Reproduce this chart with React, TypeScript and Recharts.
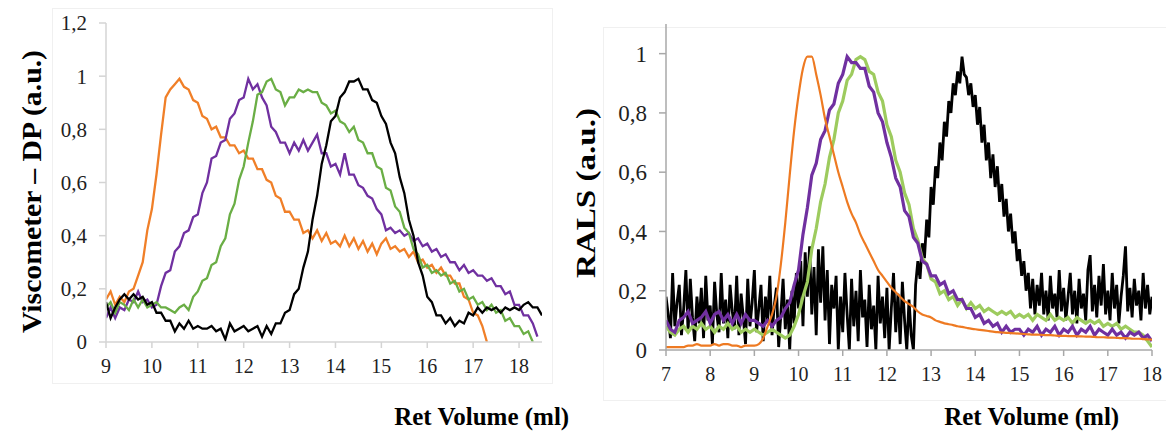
import React from 'react';
import { LineChart, Line, XAxis, YAxis } from 'recharts';

const FONT = '"Liberation Serif", "Times New Roman", serif';

// ---------- Left panel (Viscometer – DP) ----------
const leftX = [
  9, 9.1, 9.2, 9.3, 9.4, 9.5, 9.6, 9.7, 9.8, 9.9,
  10, 10.1, 10.2, 10.3, 10.4, 10.5, 10.6, 10.7, 10.8, 10.9,
  11, 11.1, 11.2, 11.3, 11.4, 11.5, 11.6, 11.7, 11.8, 11.9,
  12, 12.1, 12.2, 12.3, 12.4, 12.5, 12.6, 12.7, 12.8, 12.9,
  13, 13.1, 13.2, 13.3, 13.4, 13.5, 13.6, 13.7, 13.8, 13.9,
  14, 14.1, 14.2, 14.3, 14.4, 14.5, 14.6, 14.7, 14.8, 14.9,
  15, 15.1, 15.2, 15.3, 15.4, 15.5, 15.6, 15.7, 15.8, 15.9,
  16, 16.1, 16.2, 16.3, 16.4, 16.5, 16.6, 16.7, 16.8, 16.9,
  17, 17.1, 17.2, 17.3, 17.4, 17.5, 17.6, 17.7, 17.8, 17.9,
  18, 18.1, 18.2, 18.3, 18.4, 18.5,
];
const leftOrange = [
  0.16, 0.19, 0.14, 0.17, 0.15, 0.19, 0.20, 0.25, 0.30, 0.42,
  0.50, 0.63, 0.78, 0.92, 0.95, 0.97, 0.99, 0.96, 0.95, 0.91,
  0.90, 0.85, 0.84, 0.80, 0.81, 0.77, 0.77, 0.74, 0.74, 0.71,
  0.72, 0.69, 0.69, 0.65, 0.65, 0.61, 0.60, 0.55, 0.54, 0.49,
  0.49, 0.46, 0.46, 0.41, 0.42, 0.39, 0.42, 0.38, 0.41, 0.37,
  0.38, 0.36, 0.40, 0.36, 0.39, 0.35, 0.38, 0.34, 0.37, 0.33,
  0.37, 0.39, 0.35, 0.36, 0.34, 0.35, 0.32, 0.34, 0.30, 0.31,
  0.28, 0.29, 0.26, 0.28, 0.25, 0.25, 0.22, 0.22, 0.17, 0.16,
  0.11, 0.10, 0.06, 0.0, null, null, null, null, null, null,
  null, null, null, null, null, null,
];
const leftPurple = [
  0.09, 0.13, 0.09, 0.13, 0.12, 0.16, 0.15, 0.19, 0.15, 0.16,
  0.13, 0.14, 0.21, 0.26, 0.27, 0.34, 0.36, 0.41, 0.42, 0.47,
  0.48, 0.56, 0.60, 0.69, 0.70, 0.75, 0.76, 0.84, 0.86, 0.91,
  0.92, 0.99, 0.95, 0.97, 0.92, 0.89, 0.81, 0.79, 0.75, 0.75,
  0.71, 0.75, 0.72, 0.76, 0.72, 0.75, 0.78, 0.71, 0.71, 0.66,
  0.67, 0.63, 0.71, 0.63, 0.63, 0.59, 0.58, 0.55, 0.54, 0.50,
  0.48, 0.42, 0.43, 0.41, 0.42, 0.40, 0.41, 0.38, 0.39, 0.36,
  0.37, 0.34, 0.35, 0.32, 0.33, 0.30, 0.30, 0.27, 0.29, 0.26,
  0.27, 0.25, 0.25, 0.23, 0.24, 0.21, 0.21, 0.18, 0.19, 0.14,
  0.14, 0.10, 0.10, 0.07, 0.02, null,
];
const leftGreen = [
  0.13, 0.15, 0.11, 0.15, 0.14, 0.12, 0.16, 0.13, 0.16, 0.13,
  0.14, 0.15, 0.13, 0.13, 0.12, 0.11, 0.13, 0.14, 0.12, 0.17,
  0.19, 0.23, 0.24, 0.29, 0.30, 0.36, 0.39, 0.48, 0.52, 0.61,
  0.66, 0.75, 0.83, 0.93, 0.94, 0.98, 0.99, 0.95, 0.94, 0.89,
  0.92, 0.92, 0.95, 0.94, 0.95, 0.94, 0.94, 0.90, 0.89, 0.86,
  0.87, 0.83, 0.82, 0.79, 0.81, 0.76, 0.75, 0.71, 0.71, 0.66,
  0.65, 0.58, 0.57, 0.51, 0.49, 0.43, 0.41, 0.35, 0.33, 0.28,
  0.29, 0.26, 0.27, 0.25, 0.26, 0.22, 0.23, 0.19, 0.20, 0.16,
  0.17, 0.14, 0.15, 0.12, 0.14, 0.11, 0.12, 0.08, 0.09, 0.06,
  0.06, 0.03, 0.04, 0.0, null, null,
];
const leftBlack = [
  0.15, 0.09, 0.13, 0.16, 0.18, 0.16, 0.18, 0.16, 0.17, 0.14,
  0.15, 0.11, 0.11, 0.08, 0.08, 0.04, 0.07, 0.05, 0.08, 0.05,
  0.06, 0.05, 0.05, 0.06, 0.04, 0.05, 0.01, 0.07, 0.04, 0.05,
  0.06, 0.04, 0.05, 0.06, 0.02, 0.06, 0.03, 0.07, 0.07, 0.11,
  0.12, 0.18, 0.20, 0.28, 0.34, 0.46, 0.55, 0.67, 0.74, 0.83,
  0.85, 0.92, 0.94, 0.98, 0.98, 0.99, 0.95, 0.95, 0.91, 0.90,
  0.85, 0.82, 0.75, 0.71, 0.62, 0.56, 0.46, 0.40, 0.30, 0.25,
  0.17, 0.15, 0.10, 0.10, 0.07, 0.09, 0.06, 0.08, 0.07, 0.11,
  0.10, 0.13, 0.11, 0.13, 0.12, 0.13, 0.11, 0.13, 0.12, 0.13,
  0.12, 0.14, 0.15, 0.13, 0.13, 0.10,
];
const leftXTicks = [9, 10, 11, 12, 13, 14, 15, 16, 17, 18];
const leftYTicks = [0, 0.2, 0.4, 0.6, 0.8, 1, 1.2];

// ---------- Right panel (RALS) ----------
const rightX = [
  7, 7.1, 7.2, 7.3, 7.4, 7.5, 7.6, 7.7, 7.8, 7.9,
  8, 8.1, 8.2, 8.3, 8.4, 8.5, 8.6, 8.7, 8.8, 8.9,
  9, 9.1, 9.2, 9.3, 9.4, 9.5, 9.6, 9.7, 9.8, 9.9,
  10, 10.1, 10.2, 10.3, 10.4, 10.5, 10.6, 10.7, 10.8, 10.9,
  11, 11.1, 11.2, 11.3, 11.4, 11.5, 11.6, 11.7, 11.8, 11.9,
  12, 12.1, 12.2, 12.3, 12.4, 12.5, 12.6, 12.7, 12.8, 12.9,
  13, 13.1, 13.2, 13.3, 13.4, 13.5, 13.6, 13.7, 13.8, 13.9,
  14, 14.1, 14.2, 14.3, 14.4, 14.5, 14.6, 14.7, 14.8, 14.9,
  15, 15.1, 15.2, 15.3, 15.4, 15.5, 15.6, 15.7, 15.8, 15.9,
  16, 16.1, 16.2, 16.3, 16.4, 16.5, 16.6, 16.7, 16.8, 16.9,
  17, 17.1, 17.2, 17.3, 17.4, 17.5, 17.6, 17.7, 17.8, 17.9,
  18,
];
const rightOrange = [
  0.01, 0.01, 0.01, 0.01, 0.01, 0.015, 0.015, 0.02, 0.015, 0.015,
  0.015, 0.02, 0.015, 0.02, 0.02, 0.015, 0.015, 0.01, 0.015, 0.015,
  0.015, 0.02, 0.04, 0.08, 0.12, 0.18, 0.29, 0.43, 0.59, 0.74,
  0.86, 0.95, 0.99, 0.99, 0.93, 0.86, 0.78, 0.72, 0.66, 0.60,
  0.55, 0.50, 0.46, 0.43, 0.39, 0.36, 0.33, 0.30, 0.27, 0.25,
  0.23, 0.21, 0.195, 0.18, 0.165, 0.155, 0.145, 0.13, 0.12, 0.115,
  0.11, 0.10, 0.095, 0.09, 0.087, 0.084, 0.08, 0.078, 0.075, 0.072,
  0.07, 0.068, 0.066, 0.064, 0.062, 0.06, 0.059, 0.058, 0.057, 0.056,
  0.055, 0.054, 0.053, 0.052, 0.052, 0.051, 0.05, 0.05, 0.049, 0.048,
  0.048, 0.047, 0.047, 0.046, 0.046, 0.045, 0.045, 0.044, 0.043, 0.043,
  0.042, 0.042, 0.041, 0.04, 0.04, 0.039, 0.038, 0.038, 0.037, 0.036,
  0.035,
];
const rightPurple = [
  0.10, 0.07, 0.06, 0.10, 0.11, 0.13, 0.09, 0.10, 0.11, 0.13,
  0.09, 0.12, 0.13, 0.10, 0.12, 0.09, 0.12, 0.09, 0.12, 0.10,
  0.10, 0.09, 0.08, 0.10, 0.08, 0.10, 0.11, 0.14, 0.16, 0.22,
  0.27, 0.39, 0.48, 0.59, 0.63, 0.71, 0.74, 0.81, 0.83, 0.90,
  0.93, 0.99, 0.97, 0.97, 0.95, 0.95, 0.89, 0.87, 0.80, 0.77,
  0.70, 0.65, 0.58, 0.55, 0.47, 0.45, 0.38, 0.36, 0.30, 0.29,
  0.25, 0.25, 0.22, 0.23, 0.19, 0.20, 0.17, 0.17, 0.14, 0.14,
  0.11, 0.12, 0.09, 0.10, 0.08, 0.09, 0.06, 0.08, 0.06, 0.07,
  0.07, 0.05, 0.07, 0.06, 0.08, 0.05, 0.07, 0.06, 0.08, 0.05,
  0.07, 0.06, 0.08, 0.05, 0.07, 0.06, 0.08, 0.05, 0.07, 0.06,
  0.05, 0.07, 0.05, 0.06, 0.04, 0.06, 0.05, 0.06, 0.04, 0.05,
  0.03,
];
const rightGreen = [
  0.08, 0.06, 0.05, 0.07, 0.08, 0.06, 0.08, 0.07, 0.09, 0.07,
  0.08, 0.06, 0.08, 0.07, 0.09, 0.07, 0.08, 0.06, 0.07, 0.06,
  0.07, 0.06, 0.05, 0.06, 0.07, 0.06, 0.05, 0.04, 0.05, 0.08,
  0.12, 0.18, 0.23, 0.34, 0.41, 0.50, 0.56, 0.65, 0.71, 0.80,
  0.84, 0.91, 0.93, 0.98, 0.99, 0.98, 0.94, 0.93, 0.87, 0.84,
  0.76, 0.72, 0.64, 0.60, 0.53, 0.49, 0.41, 0.37, 0.31, 0.29,
  0.24, 0.23, 0.19, 0.20, 0.17, 0.18, 0.15, 0.17, 0.14, 0.16,
  0.14, 0.15, 0.13, 0.14, 0.13, 0.12, 0.13, 0.12, 0.13, 0.11,
  0.12, 0.11, 0.12, 0.10, 0.12, 0.11, 0.10, 0.12, 0.10, 0.11,
  0.10, 0.11, 0.09, 0.11, 0.10, 0.09, 0.10, 0.09, 0.10, 0.08,
  0.09, 0.08, 0.09, 0.07, 0.08, 0.07, 0.06, 0.06, 0.05, 0.03,
  0.01,
];
const blackX = [
  7, 7.05, 7.1, 7.15, 7.2, 7.25, 7.3, 7.35, 7.4, 7.45, 7.5, 7.55, 7.6, 7.65, 7.7, 7.75, 7.8, 7.85, 7.9, 7.95,
  8, 8.05, 8.1, 8.15, 8.2, 8.25, 8.3, 8.35, 8.4, 8.45, 8.5, 8.55, 8.6, 8.65, 8.7, 8.75, 8.8, 8.85, 8.9, 8.95,
  9, 9.05, 9.1, 9.15, 9.2, 9.25, 9.3, 9.35, 9.4, 9.45, 9.5, 9.55, 9.6, 9.65, 9.7, 9.75, 9.8, 9.85, 9.9, 9.95,
  10, 10.05, 10.1, 10.15, 10.2, 10.25, 10.3, 10.35, 10.4, 10.45, 10.5, 10.55, 10.6, 10.65, 10.7, 10.75, 10.8, 10.85, 10.9, 10.95,
  11, 11.05, 11.1, 11.15, 11.2, 11.25, 11.3, 11.35, 11.4, 11.45, 11.5, 11.55, 11.6, 11.65, 11.7, 11.75, 11.8, 11.85, 11.9, 11.95,
  12, 12.05, 12.1, 12.15, 12.2, 12.25, 12.3, 12.35, 12.4, 12.45, 12.5, 12.55, 12.6, 12.65, 12.7, 12.75, 12.8, 12.85, 12.9, 12.95,
  13, 13.05, 13.1, 13.15, 13.2, 13.25, 13.3, 13.35, 13.4, 13.45, 13.5, 13.55, 13.6, 13.65, 13.7, 13.75, 13.8, 13.85, 13.9, 13.95,
  14, 14.05, 14.1, 14.15, 14.2, 14.25, 14.3, 14.35, 14.4, 14.45, 14.5, 14.55, 14.6, 14.65, 14.7, 14.75, 14.8, 14.85, 14.9, 14.95,
  15, 15.05, 15.1, 15.15, 15.2, 15.25, 15.3, 15.35, 15.4, 15.45, 15.5, 15.55, 15.6, 15.65, 15.7, 15.75, 15.8, 15.85, 15.9, 15.95,
  16, 16.05, 16.1, 16.15, 16.2, 16.25, 16.3, 16.35, 16.4, 16.45, 16.5, 16.55, 16.6, 16.65, 16.7, 16.75, 16.8, 16.85, 16.9, 16.95,
  17, 17.05, 17.1, 17.15, 17.2, 17.25, 17.3, 17.35, 17.4, 17.45, 17.5, 17.55, 17.6, 17.65, 17.7, 17.75, 17.8, 17.85, 17.9, 17.95,
  18,
];
const rightBlack = [
  0.18, 0.12, 0.04, 0.26, 0.08, 0.16, 0.22, 0.05, 0.14, 0.27, 0.06, 0.24, 0.11, 0.03, 0.18, 0.09, 0.21, 0.04, 0.25, 0.10,
  0.15, 0.02, 0.23, 0.12, 0.06, 0.26, 0.09, 0.17, 0.04, 0.22, 0.13, 0.07, 0.25, 0.05, 0.19, 0.11, 0.02, 0.24, 0.08, 0.16,
  0.27, 0.06, 0.14, 0.22, 0.03, 0.18, 0.10, 0.25, 0.05, 0.15, 0.21, 0.01, 0.12, 0.24, 0.07, 0.17, 0.0, 0.20, 0.09, 0.26,
  0.14, 0.30, 0.08, 0.33, 0.18, 0.35, 0.12, 0.28, 0.05, 0.34, 0.16, 0.35, 0.10, 0.27, 0.02, 0.22, 0.14, 0.25, 0.0, 0.18,
  0.06, 0.26, 0.12, 0.0, 0.24, 0.08, 0.20, 0.03, 0.27, 0.11, 0.17, 0.01, 0.22, 0.07, 0.15, 0.0, 0.25, 0.09, 0.18, 0.04,
  0.21, 0.0, 0.14, 0.26, 0.06, 0.19, 0.02, 0.23, 0.10, 0.0, 0.17, 0.05, 0.0, 0.22, 0.30, 0.24, 0.36, 0.31, 0.44, 0.38,
  0.55, 0.49, 0.62, 0.58, 0.70, 0.64, 0.77, 0.72, 0.84, 0.80, 0.90, 0.86, 0.94, 0.90, 0.99, 0.93, 0.92, 0.86, 0.90, 0.82,
  0.86, 0.76, 0.82, 0.70, 0.76, 0.64, 0.70, 0.58, 0.66, 0.55, 0.62, 0.50, 0.56, 0.45, 0.51, 0.40, 0.46, 0.36, 0.40, 0.30,
  0.34, 0.25, 0.30, 0.20, 0.26, 0.14, 0.24, 0.12, 0.22, 0.15, 0.26, 0.12, 0.20, 0.10, 0.25, 0.14, 0.19, 0.11, 0.27, 0.13,
  0.21, 0.10, 0.18, 0.26, 0.12, 0.20, 0.09, 0.24, 0.14, 0.19, 0.10, 0.27, 0.32, 0.13, 0.22, 0.11, 0.25, 0.15, 0.29, 0.12,
  0.20, 0.10, 0.26, 0.14, 0.22, 0.09, 0.18, 0.25, 0.35, 0.13, 0.21, 0.11, 0.24, 0.15, 0.20, 0.10, 0.26, 0.14, 0.22, 0.12,
  0.18,
];
const rightXTicks = [7, 8, 9, 10, 11, 12, 13, 14, 15, 16, 17, 18];
const rightYTicks = [0, 0.2, 0.4, 0.6, 0.8, 1];

const leftTable = leftX.map((x, i) => ({
  x,
  orange: leftOrange[i],
  purple: leftPurple[i],
  green: leftGreen[i],
  black: leftBlack[i],
}));
const rightTable = rightX.map((x, i) => ({
  x,
  orange: rightOrange[i],
  purple: rightPurple[i],
  green: rightGreen[i],
}));
const blackTable = blackX.map((x, i) => ({ x, black: rightBlack[i] }));

const fmt = (v: number) => String(v).replace('.', ',');

const makeXTick = (size: number) => (props: any) => {
  const { x, y, payload } = props;
  return (
    <text
      x={x}
      y={y}
      dy="0.71em"
      textAnchor="middle"
      fontFamily={FONT}
      fontSize={size}
      fill="#1f1f1f"
      style={{ fontFamily: FONT, fontSize: size }}
    >
      {fmt(payload.value)}
    </text>
  );
};
const makeYTick = (size: number) => (props: any) => {
  const { x, y, payload } = props;
  return (
    <text
      x={x}
      y={y}
      dy="0.35em"
      textAnchor="end"
      fontFamily={FONT}
      fontSize={size}
      fill="#1f1f1f"
      style={{ fontFamily: FONT, fontSize: size }}
    >
      {fmt(payload.value)}
    </text>
  );
};

export default function App() {
  return (
    <div
      style={{
        position: 'absolute',
        left: 0,
        top: 0,
        width: 1166,
        height: 434,
        background: '#fff',
        overflow: 'hidden',
        fontFamily: FONT,
      }}
    >
      <svg style={{ position: 'absolute', left: 0, top: 0 }} width={1166} height={434}>
        <rect x={52.5} y={8.5} width={500} height={375} fill="none" stroke="#f0f0f0" />
        <rect x={603.5} y={27.5} width={580} height={373} fill="none" stroke="#f0f0f0" />
      </svg>
      <div style={{ position: 'absolute', left: 0, top: 0 }}>
        <LineChart width={560} height={434} data={leftTable} margin={{ top: 23, right: 18, bottom: 62, left: 0 }}>
          <XAxis
            dataKey="x"
            type="number"
            domain={[9, 18.5]}
            ticks={leftXTicks}
            interval={0}
            allowDataOverflow
            height={30}
            tick={makeXTick(20)}
            tickSize={6}
            tickMargin={11}
            axisLine={{ stroke: '#d4d4d4', strokeWidth: 1.5 }}
            tickLine={{ stroke: '#d4d4d4', strokeWidth: 1.5 }}
          />
          <YAxis
            type="number"
            domain={[0, 1.2]}
            ticks={leftYTicks}
            interval={0}
            allowDataOverflow
            width={106}
            tick={makeYTick(21)}
            tickSize={7}
            tickMargin={12}
            axisLine={{ stroke: '#d4d4d4', strokeWidth: 1.5 }}
            tickLine={{ stroke: '#d4d4d4', strokeWidth: 1.5 }}
          />
          <Line dataKey="orange" type="linear" stroke="#F07F28" strokeWidth={2.3} dot={false} isAnimationActive={false} />
          <Line dataKey="purple" type="linear" stroke="#7030A0" strokeWidth={2.3} dot={false} isAnimationActive={false} />
          <Line dataKey="green" type="linear" stroke="#6AAE45" strokeWidth={2.3} dot={false} isAnimationActive={false} />
          <Line dataKey="black" type="linear" stroke="#000000" strokeWidth={2.3} dot={false} isAnimationActive={false} />
        </LineChart>
      </div>
      <div style={{ position: 'absolute', left: 560, top: 0 }}>
        <LineChart width={606} height={434} data={rightTable} margin={{ top: 24, right: 14, bottom: 54, left: 0 }}>
          <XAxis
            dataKey="x"
            type="number"
            domain={[7, 18]}
            ticks={rightXTicks}
            interval={0}
            allowDataOverflow
            height={30}
            tick={makeXTick(20)}
            tickSize={6}
            tickMargin={11}
            axisLine={{ stroke: '#a8a8a8', strokeWidth: 1.5 }}
            tickLine={{ stroke: '#a8a8a8', strokeWidth: 1.5 }}
          />
          <YAxis
            type="number"
            domain={[0, 1.1]}
            ticks={rightYTicks}
            interval={0}
            allowDataOverflow
            width={106}
            tick={makeYTick(23)}
            tickSize={7}
            tickMargin={12}
            axisLine={{ stroke: '#a8a8a8', strokeWidth: 1.5 }}
            tickLine={{ stroke: '#a8a8a8', strokeWidth: 1.5 }}
          />
          <Line data={blackTable} dataKey="black" type="linear" stroke="#000000" strokeWidth={2.8} dot={false} isAnimationActive={false} />
          <Line dataKey="green" type="linear" stroke="#9DCB5E" strokeWidth={3.2} dot={false} isAnimationActive={false} />
          <Line dataKey="purple" type="linear" stroke="#7030A0" strokeWidth={3.2} dot={false} isAnimationActive={false} />
          <Line dataKey="orange" type="monotone" stroke="#EE7A22" strokeWidth={2.2} dot={false} isAnimationActive={false} />
        </LineChart>
      </div>
      <svg style={{ position: 'absolute', left: 0, top: 0, pointerEvents: 'none' }} width={1166} height={434}>
        <text
          transform="translate(41,191.5) rotate(-90)"
          textAnchor="middle"
          fontFamily={FONT}
          fontSize={28}
          fontWeight="bold"
          fill="#000"
          textLength={283}
          lengthAdjust="spacingAndGlyphs"
        >
          Viscometer – DP (a.u.)
        </text>
        <text
          transform="translate(595,193) rotate(-90)"
          textAnchor="middle"
          fontFamily={FONT}
          fontSize={28}
          fontWeight="bold"
          fill="#000"
          textLength={170}
          lengthAdjust="spacingAndGlyphs"
        >
          RALS (a.u.)
        </text>
        <text x={481.7} y={425} textAnchor="middle" fontFamily={FONT} fontSize={25} fontWeight="bold" fill="#000">
          Ret Volume (ml)
        </text>
        <text x={1031.7} y={425} textAnchor="middle" fontFamily={FONT} fontSize={25} fontWeight="bold" fill="#000">
          Ret Volume (ml)
        </text>
      </svg>
    </div>
  );
}
